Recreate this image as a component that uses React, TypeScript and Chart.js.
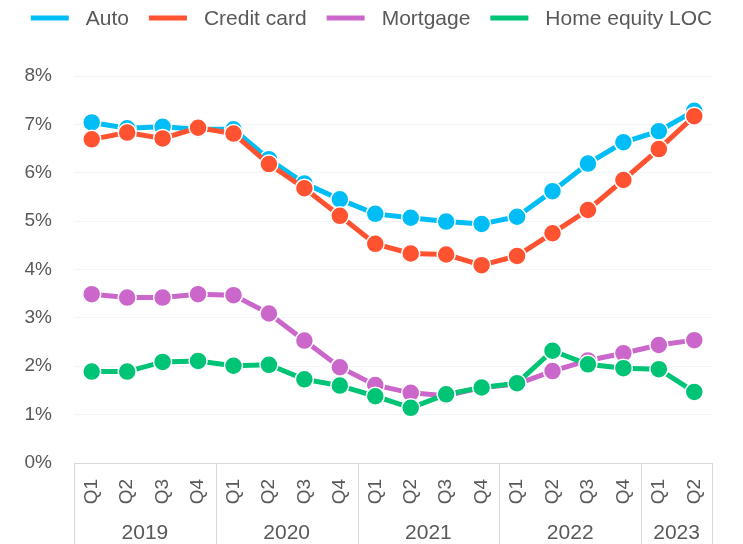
import { useEffect, useRef } from 'react';
import { Chart, registerables } from 'chart.js';

Chart.register(...registerables);

const quarterLabels = ['Q1', 'Q2', 'Q3', 'Q4', 'Q1', 'Q2', 'Q3', 'Q4', 'Q1', 'Q2', 'Q3', 'Q4', 'Q1', 'Q2', 'Q3', 'Q4', 'Q1', 'Q2'];
const yearLabels = ['2019', '2020', '2021', '2022', '2023'];
const quartersPerYear = [4, 4, 4, 4, 2];

const autoRates = [7.04, 6.92, 6.95, 6.9, 6.9, 6.28, 5.78, 5.45, 5.15, 5.07, 4.99, 4.94, 5.09, 5.62, 6.19, 6.63, 6.86, 7.28];
const creditCardRates = [6.69, 6.83, 6.71, 6.93, 6.81, 6.18, 5.68, 5.11, 4.53, 4.33, 4.31, 4.09, 4.28, 4.75, 5.23, 5.85, 6.49, 7.17];
const mortgageRates = [3.49, 3.42, 3.42, 3.49, 3.47, 3.09, 2.53, 1.98, 1.61, 1.45, 1.39, 1.56, 1.63, 1.9, 2.12, 2.27, 2.44, 2.54];
const helocRates = [1.89, 1.89, 2.09, 2.11, 2.01, 2.03, 1.73, 1.6, 1.38, 1.14, 1.42, 1.56, 1.65, 2.32, 2.04, 1.96, 1.94, 1.47];

const FONT = '"Liberation Sans", Arial, sans-serif';
const TEXT = '#595959';

const legendPlugin = {
  id: 'customLegend',
  afterDraw(chart: any) {
    const ctx = chart.ctx;
    const ds = chart.data.datasets;
    ctx.save();
    ctx.font = `21px ${FONT}`;
    const sw = 38;
    const gapText = 17;
    const gapItem = 20;
    const widths = ds.map((d: any) => sw + gapText + ctx.measureText(d.label).width);
    const total = widths.reduce((a: number, b: number) => a + b, 0) + gapItem * (ds.length - 1);
    let x = (chart.width - total) / 2;
    const y = 18;
    ds.forEach((d: any, i: number) => {
      ctx.fillStyle = d.borderColor;
      ctx.fillRect(x, y - 2.5, sw, 5);
      ctx.fillStyle = TEXT;
      ctx.textAlign = 'left';
      ctx.textBaseline = 'middle';
      ctx.fillText(d.label, x + sw + gapText, y + 1);
      x += widths[i] + gapItem;
    });
    ctx.restore();
  },
};

const yearPlugin = {
  id: 'yearGroups',
  afterDraw(chart: any) {
    const ctx = chart.ctx;
    const xs = chart.scales.x;
    const step = xs.getPixelForValue(1) - xs.getPixelForValue(0);
    const top = chart.chartArea.bottom;
    const bottom = chart.height;
    ctx.save();
    ctx.strokeStyle = '#d9d9d9';
    ctx.lineWidth = 1;
    const vline = (px: number) => {
      const p = Math.round(px) + 0.5;
      ctx.beginPath();
      ctx.moveTo(p, top);
      ctx.lineTo(p, bottom);
      ctx.stroke();
    };
    let idx = 0;
    vline(xs.getPixelForValue(0) - step / 2);
    ctx.font = `21px ${FONT}`;
    ctx.fillStyle = TEXT;
    ctx.textAlign = 'center';
    ctx.textBaseline = 'middle';
    yearLabels.forEach((yr, g) => {
      const n = quartersPerYear[g];
      const l = xs.getPixelForValue(idx) - step / 2;
      const r = xs.getPixelForValue(idx + n - 1) + step / 2;
      vline(r);
      ctx.fillText(yr, (l + r) / 2, 533);
      idx += n;
    });
    ctx.restore();
  },
};

function makeDataset(label: string, data: number[], color: string, order: number) {
  return {
    label,
    data,
    borderColor: color,
    backgroundColor: color,
    borderWidth: 5,
    pointRadius: 9,
    pointHoverRadius: 9,
    pointBackgroundColor: color,
    pointBorderColor: '#ffffff',
    pointBorderWidth: 1.5,
    tension: 0,
    order,
  };
}

export default function App() {
  const ref = useRef<HTMLCanvasElement | null>(null);
  useEffect(() => {
    if (!ref.current) return;
    const chart = new Chart(ref.current, {
      type: 'line',
      data: {
        labels: quarterLabels,
        datasets: [
          makeDataset('Auto', autoRates, '#00BEF5', 4),
          makeDataset('Credit card', creditCardRates, '#FF5230', 3),
          makeDataset('Mortgage', mortgageRates, '#CB67CB', 2),
          makeDataset('Home equity LOC', helocRates, '#00C475', 1),
        ] as any,
      },
      options: {
        animation: false,
        responsive: true,
        maintainAspectRatio: false,
        events: [],
        layout: { padding: { top: 76, right: 31, bottom: 0, left: 0 } },
        plugins: {
          legend: { display: false },
          tooltip: { enabled: false },
        },
        scales: {
          x: {
            offset: true,
            grid: { display: false, offset: true },
            border: { display: false },
            ticks: {
              minRotation: 90,
              maxRotation: 90,
              autoSkip: false,
              padding: 8,
              color: TEXT,
              font: { size: 19, family: FONT },
            },
            afterFit: (s: any) => {
              s.height = 81;
              s.paddingLeft = 0;
              s.paddingRight = 0;
            },
          },
          y: {
            min: 0,
            max: 8,
            ticks: {
              stepSize: 1,
              padding: 22,
              color: TEXT,
              font: { size: 19, family: FONT },
              callback: (v: any) => v + '%',
            },
            grid: {
              drawTicks: false,
              lineWidth: 1,
              color: (c: any) => (c.tick && c.tick.value === 0 ? '#d9d9d9' : '#f1f4f8'),
            },
            border: { display: false },
            afterFit: (s: any) => {
              s.width = 74;
            },
          },
        },
      } as any,
      plugins: [legendPlugin, yearPlugin],
    });
    return () => chart.destroy();
  }, []);
  return (
    <div style={{ position: 'fixed', left: 0, top: 0, width: 743, height: 544 }}>
      <canvas ref={ref} />
    </div>
  );
}
